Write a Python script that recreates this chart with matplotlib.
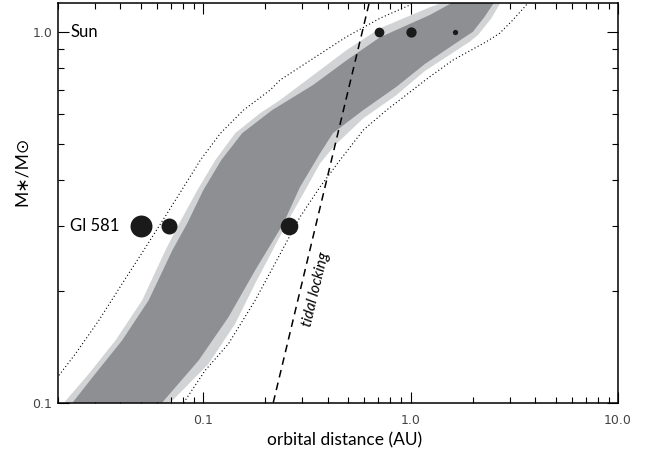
import matplotlib
matplotlib.use("Agg")
import matplotlib.pyplot as plt
from matplotlib.ticker import NullFormatter

# habitable zone edges, (orbital distance AU, stellar mass Msun)
dot_in_x = [0.0202, 0.0243, 0.0315, 0.0408, 0.0518, 0.0671, 0.0807, 0.0971, 0.1211,
            0.1567, 0.2107, 0.2352, 0.3402, 0.4924, 0.7117, 0.9923, 1.037]
dot_in_m = [0.1185, 0.1356, 0.1669, 0.2097, 0.258, 0.3242, 0.3825, 0.4517, 0.5333,
            0.6166, 0.6985, 0.7433, 0.8507, 0.973, 1.091, 1.185, 1.2]

light_in_x = [0.0214, 0.0282, 0.0379, 0.0509, 0.0659, 0.0769, 0.0939, 0.1146, 0.143,
              0.1886, 0.2352, 0.3402, 0.4924, 0.7117, 1.238, 1.414]
light_in_m = [0.1, 0.1198, 0.1474, 0.189, 0.258, 0.3052, 0.3747, 0.4517, 0.5343,
              0.6049, 0.6564, 0.7666, 0.8958, 1.0252, 1.1684, 1.2]

dark_in_x = [0.0235, 0.0303, 0.0408, 0.0547, 0.0712, 0.0840, 0.1003, 0.1224, 0.1545,
             0.2154, 0.3391, 0.4941, 0.7117, 1.238, 1.58]
dark_in_m = [0.1, 0.1198, 0.1474, 0.189, 0.258, 0.3052, 0.3747, 0.4517, 0.5343,
             0.6166, 0.7206, 0.8417, 0.9694, 1.1136, 1.2]

dark_out_x = [0.0635, 0.0953, 0.1327, 0.1784, 0.244, 0.2936, 0.3664, 0.4229, 0.5918,
              0.8564, 1.1715, 1.7905, 2.0, 2.2765, 2.52]
dark_out_m = [0.1, 0.1301, 0.1703, 0.2278, 0.3047, 0.3825, 0.471, 0.5343, 0.6166,
              0.713, 0.8209, 0.9634, 1.0037, 1.1019, 1.2]

light_out_x = [0.0696, 0.1064, 0.143, 0.1784, 0.2658, 0.3046, 0.3664, 0.4326, 0.5918,
               0.8564, 1.1715, 1.928, 2.1135, 2.4518, 2.71]
light_out_m = [0.1, 0.1274, 0.1635, 0.2097, 0.3208, 0.3671, 0.4425, 0.4959, 0.5854,
               0.6771, 0.7858, 0.9432, 0.9833, 1.091, 1.2]

dot_out_x = [0.0807, 0.1025, 0.1327, 0.1784, 0.2936, 0.3664, 0.4571, 0.5918, 0.7667,
             1.238, 1.6029, 2.3198, 2.6874, 3.1131, 3.6128, 3.665]
dot_out_m = [0.1, 0.1223, 0.1443, 0.189, 0.3174, 0.3825, 0.4517, 0.5444, 0.6166,
             0.7586, 0.8417, 0.9432, 0.9938, 1.0795, 1.1851, 1.2]

tidal_x = [0.218, 0.632]
tidal_m = [0.1, 1.2]

# planets
gl581_x = [0.0505, 0.0684, 0.261]
gl581_size = [15.8, 11.5, 12.7]
sun_x = [0.706, 1.0, 1.64]
sun_size = [7.0, 7.4, 3.8]

fig = plt.figure(figsize=(6.53, 4.55), dpi=100)
ax = fig.add_axes([0.0888, 0.115, 0.8576, 0.8784])

ax.fill(light_in_x + light_out_x[::-1], light_in_m + light_out_m[::-1],
        color='#d2d3d5', lw=0, zorder=1)
ax.fill(dark_in_x + dark_out_x[::-1], dark_in_m + dark_out_m[::-1],
        color='#8e8f92', lw=0, zorder=2)
ax.plot(dot_in_x, dot_in_m, color='black', ls=(0, (1, 2.2)), lw=0.8, zorder=3)
ax.plot(dot_out_x, dot_out_m, color='black', ls=(0, (1, 2.2)), lw=0.8, zorder=3)
ax.plot(tidal_x, tidal_m, color='black', ls=(0, (5, 3.5)), lw=1.1, zorder=3)

for x, s in zip(gl581_x, gl581_size):
    ax.plot(x, 0.3, 'o', color='#1a1a1a', ms=s, mew=0, zorder=4)
for x, s in zip(sun_x, sun_size):
    ax.plot(x, 1.0, 'o', color='#1a1a1a', ms=s, mew=0, zorder=4)

ax.text(0.352, 0.202, 'tidal locking', rotation=76.5, rotation_mode='anchor',
        ha='center', va='center', fontsize=11, style='italic',
        family=['Lato', 'DejaVu Sans'], zorder=5)

trans = ax.get_yaxis_transform()
ax.text(0.022, 1.0, 'Sun', transform=trans, ha='left', va='center',
        fontsize=12, family=['Lato', 'DejaVu Sans'])
ax.text(0.022, 0.3, 'Gl 581', transform=trans, ha='left', va='center',
        fontsize=12, family=['Lato', 'DejaVu Sans'])

ax.set_xscale('log')
ax.set_yscale('log')
ax.set_xlim(0.02, 10)
ax.set_ylim(0.1, 1.2)

ax.set_xticks([0.1, 1, 10], ['0.1', '1.0', '10.0'])
ax.set_yticks([0.1, 1.0], ['0.1', '1.0'])
ax.xaxis.set_minor_formatter(NullFormatter())
ax.yaxis.set_minor_formatter(NullFormatter())
ax.tick_params(which='both', direction='in', top=True, right=True,
               labelsize=9, labelcolor='#444444', width=0.8)
ax.tick_params(which='major', length=8)
ax.tick_params(which='minor', length=4)
ax.tick_params(axis='x', pad=8)
ax.tick_params(axis='y', pad=4)
for sp in ax.spines.values():
    sp.set_linewidth(1.1)

ax.set_xlabel('orbital distance (AU)', fontsize=12.5, family=['Lato', 'DejaVu Sans'])
ax.xaxis.set_label_coords(0.512, -0.075)
ax.set_ylabel('M\u2217/M\u2299', fontsize=12.5, family=['Lato', 'DejaVu Sans'])
ax.yaxis.set_label_coords(-0.05, 0.58)

fig.savefig('out.png', dpi=100)
